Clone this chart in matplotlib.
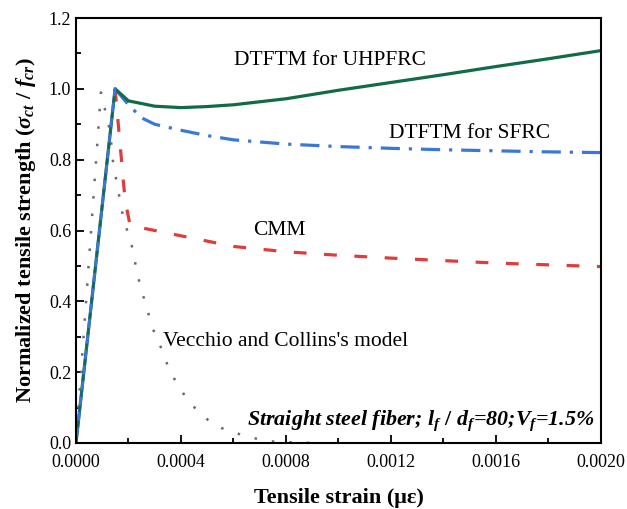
import numpy as np
import matplotlib
matplotlib.use("Agg")
import matplotlib.pyplot as plt
from matplotlib.ticker import MultipleLocator, FormatStrFormatter

plt.rcParams['font.family'] = ['Liberation Serif', 'DejaVu Serif']
plt.rcParams['mathtext.fontset'] = 'custom'
plt.rcParams['mathtext.rm'] = 'Liberation Serif:bold'
plt.rcParams['mathtext.it'] = 'Liberation Serif:bold:italic'
plt.rcParams['mathtext.bf'] = 'Liberation Serif:bold'

# Vecchio and Collins's model
vc_strain = [0, 0.000095, 0.00013, 0.00014, 0.000149, 0.000179, 0.000217, 0.000229,
             0.000244, 0.000263, 0.000282, 0.000301, 0.000328, 0.00035, 0.000381,
             0.000415, 0.000453, 0.000507, 0.000568, 0.000632, 0.000693, 0.00076, 0.0009]
vc_stress = [0, 0.99, 0.88, 0.80, 0.76, 0.64, 0.545, 0.494,
             0.446, 0.398, 0.35, 0.305, 0.263, 0.217, 0.172,
             0.133, 0.099, 0.062, 0.037, 0.023, 0.011, 0.003, 0.0]

# DTFTM for UHPFRC
uh_strain = [0, 0.000149, 0.0002, 0.0003, 0.0004, 0.0005, 0.0006, 0.0008,
             0.001, 0.0012, 0.0014, 0.0016, 0.0018, 0.002]
uh_stress = [0, 1.0, 0.966, 0.951, 0.947, 0.950, 0.955, 0.972,
             0.996, 1.018, 1.040, 1.063, 1.085, 1.108]

# DTFTM for SFRC
sf_strain = [0.000149, 0.0002, 0.00025, 0.0003, 0.0004, 0.0005, 0.0006, 0.0008,
             0.001, 0.0012, 0.0014, 0.0016, 0.0018, 0.002]
sf_stress = [1.0, 0.955, 0.918, 0.900, 0.883, 0.868, 0.856, 0.844,
             0.837, 0.832, 0.828, 0.825, 0.822, 0.820]

# CMM
cm_strain = [0.000149, 0.000187, 0.000206, 0.00022, 0.0003, 0.0004, 0.0006, 0.0008,
             0.001, 0.0012, 0.0014, 0.0016, 0.0018, 0.002]
cm_stress = [1.0, 0.686, 0.615, 0.612, 0.600, 0.585, 0.555, 0.540,
             0.530, 0.522, 0.515, 0.508, 0.503, 0.498]

fig = plt.figure(figsize=(6.27, 5.09), dpi=100)
ax = fig.add_axes([0.1212, 0.1297, 0.8373, 0.8349])

ax.plot(vc_strain, vc_stress, color='#6b6b6b', lw=1.8, linestyle=(0, (1, 6)))
ax.plot(cm_strain, cm_stress, color='#e03c3c', lw=2.3, linestyle=(0, (4, 5.5)))
ax.plot(sf_strain, sf_stress, color='#3a78d8', lw=2.3, linestyle=(0, (6, 2.8, 1, 2.8)))
ax.plot(uh_strain, uh_stress, color='#126b47', lw=2.3)
# shared elastic branch
ax.plot(uh_strain[:2], uh_stress[:2], color='#3a78d8', lw=2.0)
ax.plot(uh_strain[:2], uh_stress[:2], color='#126b47', lw=1.6, linestyle=(0, (3, 4)))

ax.text(0.000968, 1.081, 'DTFTM for UHPFRC', fontsize=15.5, ha='center', va='center')
ax.text(0.0015, 0.875, 'DTFTM for SFRC', fontsize=15.5, ha='center', va='center')
ax.text(0.000773, 0.601, 'CMM', fontsize=15.5, ha='center', va='center')
ax.text(0.000331, 0.286, "Vecchio and Collins's model", fontsize=15.5, ha='left', va='center')
ax.text(0.001977, 0.063,
        r"Straight steel fiber; $l_f\ /\ d_f$=80;$V_f$=1.5%",
        fontsize=15.8, fontweight='bold', fontstyle='italic', ha='right', va='center')

ax.set_xlim(0, 0.002)
ax.set_ylim(0, 1.2)
ax.xaxis.set_major_locator(MultipleLocator(0.0004))
ax.xaxis.set_minor_locator(MultipleLocator(0.0002))
ax.yaxis.set_major_locator(MultipleLocator(0.2))
ax.yaxis.set_minor_locator(MultipleLocator(0.1))
ax.xaxis.set_major_formatter(FormatStrFormatter('%.4f'))
ax.yaxis.set_major_formatter(FormatStrFormatter('%.1f'))
ax.tick_params(which='both', direction='in', top=False, right=False, labelsize=13, width=1.3)
ax.tick_params(which='major', length=6)
ax.tick_params(which='minor', length=3.5)
ax.tick_params(axis='x', pad=8)
for s in ax.spines.values():
    s.set_linewidth(1.5)

ax.set_xlabel('Tensile strain (με)', fontsize=16, fontweight='bold', labelpad=12)
ax.set_ylabel(r'Normalized tensile strength ($\sigma_{ct}\ /\ f_{cr}$)', fontsize=16,
              fontweight='bold', labelpad=8)

fig.savefig('out.png', dpi=100)
